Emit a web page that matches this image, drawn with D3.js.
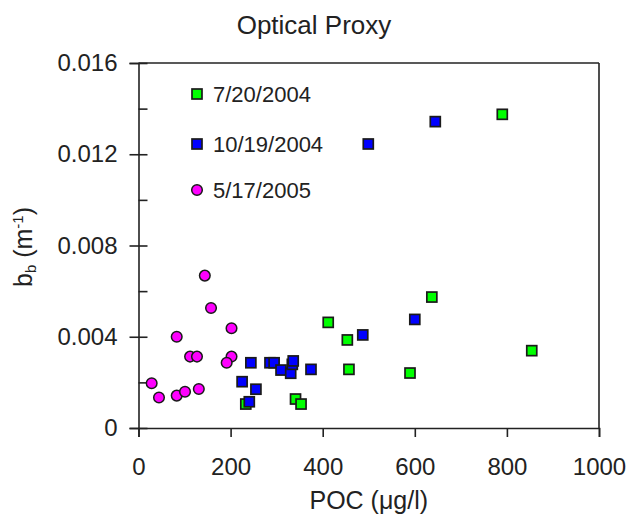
<!DOCTYPE html>
<html>
<head>
<meta charset="utf-8">
<script src="https://cdn.jsdelivr.net/npm/d3@7"></script>
<style>
  html, body { margin: 0; padding: 0; background: #fff; }
  text { font-family: "Liberation Sans", Arial, sans-serif; fill: #222; }
</style>
</head>
<body>
<svg id="chart" width="629" height="517"></svg>
<script>
// ---- data ----
const seriesNames = ["7/20/2004", "10/19/2004", "5/17/2005"];
const seriesColors = ["#00ff00", "#0000ff", "#ff00ff"];
const seriesShapes = ["square", "square", "circle"];

const pocJul2004 = [233, 341, 353, 412, 453.5, 457, 589.6, 637, 790, 854];
const bbJul2004  = [0.00105, 0.00127, 0.00105, 0.00463, 0.00386, 0.00257, 0.00241, 0.00574, 0.01375, 0.00339];

const pocOct2004 = [225, 240.6, 244, 255, 285.5, 294.5, 309.5, 330.5, 334, 336, 374.6, 487, 499, 600, 644.5];
const bbOct2004  = [0.00203, 0.00115, 0.00286, 0.0017, 0.00286, 0.00286, 0.00254, 0.0024, 0.00279, 0.00294, 0.00257, 0.00408, 0.01245, 0.00476, 0.01343];

const pocMay2005 = [28.6, 44.5, 83, 101, 131, 83, 112, 127, 144, 157.5, 202, 202, 191.5];
const bbMay2005  = [0.00196, 0.00134, 0.00142, 0.00159, 0.00171, 0.0040, 0.00313, 0.00313, 0.00668, 0.00526, 0.00437, 0.00313, 0.00286];

const xTicks = [0, 200, 400, 600, 800, 1000];
const yTicks = [0, 0.004, 0.008, 0.012, 0.016];
const yMinorTicks = [0.002, 0.006, 0.010, 0.014];
const yTickLabels = ["0", "0.004", "0.008", "0.012", "0.016"];

const series = [
  {x: pocJul2004, y: bbJul2004},
  {x: pocOct2004, y: bbOct2004},
  {x: pocMay2005, y: bbMay2005}
];

(function () {
// ---- layout ----
const svg = d3.select("#chart");
const pL = 138.5, pR = 599, pT = 63, pB = 428;
const x = d3.scaleLinear().domain([0, 1000]).range([pL, pR]);
const y = d3.scaleLinear().domain([0, 0.016]).range([pB, pT]);
const axisColor = "#222";

// title
svg.append("text").attr("x", 314).attr("y", 34).attr("text-anchor", "middle")
  .style("font-size", "26px").text("Optical Proxy");

// frame (top, right)
svg.append("line").attr("x1", pL).attr("x2", pR).attr("y1", pT).attr("y2", pT)
  .attr("stroke", axisColor).attr("stroke-width", 1.6);
svg.append("line").attr("x1", pR).attr("x2", pR).attr("y1", pT).attr("y2", pB)
  .attr("stroke", axisColor).attr("stroke-width", 1.6);

// x axis
const xAxis = d3.axisBottom(x).tickValues(xTicks).tickSize(9).tickPadding(21).tickFormat(d3.format("d"));
const gx = svg.append("g").attr("transform", `translate(0,${pB})`).call(xAxis);
gx.select(".domain").attr("stroke", axisColor).attr("stroke-width", 1.6);
gx.selectAll(".tick line").attr("stroke", axisColor).attr("stroke-width", 1.6);
gx.selectAll(".tick text").style("font-size", "24px").style("font-family", "Liberation Sans, Arial, sans-serif").attr("fill", "#222");

// y axis (major ticks crossing the axis)
const yAxis = d3.axisLeft(y).tickValues(yTicks).tickSize(9).tickPadding(12)
  .tickFormat((d, i) => yTickLabels[i]);
const gy = svg.append("g").attr("transform", `translate(${pL},0)`).call(yAxis);
gy.select(".domain").attr("stroke", axisColor).attr("stroke-width", 1.6);
gy.selectAll(".tick line").attr("stroke", axisColor).attr("stroke-width", 1.6).attr("x2", 9).attr("x1", -9);
gy.selectAll(".tick text").style("font-size", "24px").style("font-family", "Liberation Sans, Arial, sans-serif").attr("fill", "#222");
// minor ticks inward
const yMinor = d3.axisRight(y).tickValues(yMinorTicks).tickSize(9).tickFormat("");
const gym = svg.append("g").attr("transform", `translate(${pL},0)`).call(yMinor);
gym.select(".domain").remove();
gym.selectAll(".tick line").attr("stroke", axisColor).attr("stroke-width", 1.6);

// axis titles
svg.append("text").attr("x", (pL + pR) / 2).attr("y", 509).attr("text-anchor", "middle")
  .style("font-size", "25px").text("POC (\u03bcg/l)");

const yt = svg.append("text").attr("transform", "translate(32,247) rotate(-90)")
  .attr("text-anchor", "middle").style("font-size", "25px");
yt.append("tspan").text("b");
yt.append("tspan").attr("baseline-shift", "-4").style("font-size", "15px").text("b");
yt.append("tspan").text(" (m");
yt.append("tspan").attr("baseline-shift", "9").style("font-size", "15px").text("-1");
yt.append("tspan").text(")");

// points
const ms = 10;
series.forEach((s, i) => {
  const pts = s.x.map((v, j) => [v, s.y[j]]);
  const g = svg.append("g");
  if (seriesShapes[i] === "square") {
    g.selectAll("rect").data(pts).join("rect")
      .attr("x", d => x(d[0]) - ms / 2).attr("y", d => y(d[1]) - ms / 2)
      .attr("width", ms).attr("height", ms)
      .attr("fill", seriesColors[i]).attr("stroke", "#1a1a1a").attr("stroke-width", 1.7);
  } else {
    g.selectAll("circle").data(pts).join("circle")
      .attr("cx", d => x(d[0])).attr("cy", d => y(d[1])).attr("r", 5.3)
      .attr("fill", seriesColors[i]).attr("stroke", "#1a1a1a").attr("stroke-width", 1.5);
  }
});

// legend
const legendY = [94, 144, 190];
const legendX = 197;
seriesNames.forEach((name, i) => {
  const ly = legendY[i];
  if (seriesShapes[i] === "square") {
    svg.append("rect").attr("x", legendX - ms / 2).attr("y", ly - ms / 2).attr("width", ms).attr("height", ms)
      .attr("fill", seriesColors[i]).attr("stroke", "#1a1a1a").attr("stroke-width", 1.7);
  } else {
    svg.append("circle").attr("cx", legendX).attr("cy", ly).attr("r", 5.3)
      .attr("fill", seriesColors[i]).attr("stroke", "#1a1a1a").attr("stroke-width", 1.5);
  }
  svg.append("text").attr("x", 213).attr("y", ly + 8).style("font-size", "22px").text(name);
});
})();
</script>
</body>
</html>
